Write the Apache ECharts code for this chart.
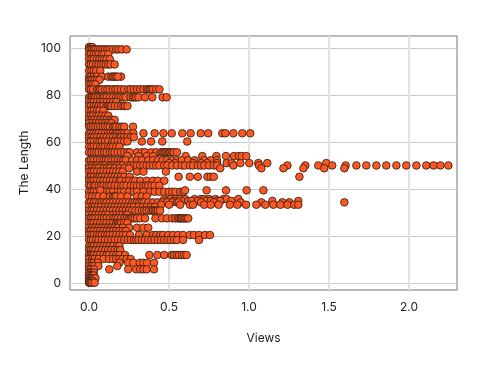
<!DOCTYPE html>
<html><head><meta charset="utf-8">
<style>html,body{margin:0;padding:0;background:#fff}#c{width:479px;height:372px}</style>
<script src="https://cdn.jsdelivr.net/npm/echarts@6/dist/echarts.min.js"></script>
</head><body><div id="c"></div>
<script>
const xTicks=[0,0.5,1,1.5,2];
const yTicks=[0,20,40,60,80,100];
const L100=[0,0.01,0.02];
const L99=[0,0.01,0.02,0.03,0.04,0.055,0.07,0.085,0.1,0.115,0.13,0.15,0.17,0.185,0.205,0.235];
const L97=[0,0.012,0.03,0.045,0.06,0.08,0.095,0.12];
const L95=[0,0.015,0.03,0.05,0.065,0.08,0.095,0.11,0.13];
const L93=[0,0.01,0.025,0.045,0.06,0.075,0.09,0.105,0.12,0.135,0.16];
const L90=[0,0.015,0.03,0.045,0.07];
const L88=[0,0.012,0.03,0.05,0.08,0.12,0.14,0.15,0.16,0.17,0.2,0.18];
const L86=[0,0.01,0.02,0.035,0.05,0.065];
const L84=[0,0.012,0.025,0.04];
const L82=[0,0.012,0.025,0.05,0.06,0.07,0.08,0.1,0.115,0.13,0.15,0.165,0.18,0.2,0.22,0.245,0.26,0.28,0.3,0.32,0.34,0.36,0.37,0.38,0.39,0.4,0.42,0.44];
const L79=[0,0.012,0.02,0.03,0.04,0.055,0.07,0.085,0.095,0.11,0.13,0.15,0.17,0.185,0.2,0.215,0.23,0.26,0.275,0.285,0.295,0.31,0.35,0.395,0.46,0.485];
const L77=[0,0.015,0.03,0.05,0.07,0.09,0.11,0.13,0.15,0.17];
const L75=[0,0.012,0.03,0.045,0.06,0.075,0.09,0.11,0.12,0.13,0.14,0.16,0.18,0.2,0.215,0.225,0.24];
const L73=[0,0.015,0.03,0.05,0.065,0.09];
const L71=[0,0.012,0.025,0.045,0.06,0.08,0.1,0.12];
const L69=[0,0.015,0.03,0.05,0.07,0.09,0.11,0.13,0.145,0.16];
const L68=[0,0.02,0.04,0.06,0.08,0.1,0.12,0.14];
const L66=[0,0.012,0.025,0.04,0.055,0.07,0.085,0.1,0.115,0.13,0.15,0.16,0.17,0.19,0.205,0.22,0.275];
const L64=[0,0.012,0.03,0.045,0.06,0.08,0.1,0.12,0.135,0.15,0.165,0.175,0.19,0.205,0.22,0.24,0.277,0.34,0.41,0.465,0.517,0.583,0.635,0.698,0.745,0.833,0.852,0.902,0.958,1.008];
const L62=[0,0.015,0.03,0.05,0.07,0.09,0.11,0.13,0.15,0.17,0.19,0.2,0.22,0.24,0.26,0.28];
const L60=[0,0.012,0.03,0.05,0.065,0.08,0.1,0.12,0.145,0.16,0.18,0.2,0.22,0.24,0.33,0.3875,0.458,0.614];
const L58=[0,0.015,0.03,0.05,0.07,0.085,0.1,0.12,0.135,0.15,0.17,0.19];
const L55=[0,0.015,0.03,0.045,0.06,0.08,0.095,0.11,0.13,0.145,0.16,0.18,0.2,0.22,0.24,0.255,0.3,0.33,0.35,0.39,0.42,0.45,0.46,0.47,0.48,0.49,0.5,0.51,0.52,0.53,0.55];
const L54=[0.24,0.31,0.36,0.4,0.604,0.708,0.796,0.856,0.906,0.936,0.954,0.983];
const L52=[0,0.012,0.03,0.05,0.07,0.09,0.105,0.12,0.14,0.16,0.18,0.2,0.215,0.23,0.27,0.3,0.33,0.37,0.4,0.43,0.46,0.485,0.52,0.55,0.58,0.62,0.66,0.72,0.76,0.8];
const L51=[0.5,0.54,0.65,0.7,0.74,0.8,0.86,0.892,0.946,1.002,1.058,1.114,1.483];
const L50=[0,0.015,0.035,0.05,0.07,0.085,0.1,0.125,0.14,0.155,0.17,0.19,0.21,0.24,0.26,0.28,0.3,0.32,0.34,0.36,0.38,0.4,0.42,0.44,0.47,0.49,0.52,0.55,0.58,0.6,0.63,0.65,0.68,0.7,0.72,0.75,0.78,0.8,0.902,1.0625,1.24,1.352,1.433,1.52,1.604,1.671,1.733,1.796,1.858,1.921,1.983,2.046,2.108,2.154,2.196,2.246];
const L49=[0,0.02,0.04,0.06,0.09,0.11,0.13,0.16,0.19,0.22,0.25,0.82,1.077,1.215,1.34,1.47,1.596];
const L47=[0,0.015,0.03,0.05,0.07,0.09,0.11,0.13,0.15,0.17,0.19,0.21,0.3,0.34,0.48];
const L45=[0,0.012,0.03,0.05,0.065,0.08,0.1,0.12,0.14,0.16,0.18,0.2,0.22,0.255,0.56,0.63,0.68,0.74,0.76,0.78,1.315];
const L43=[0,0.015,0.03,0.05,0.07,0.09,0.11,0.13,0.15,0.17,0.19,0.2,0.23,0.25,0.275,0.29,0.32,0.36,0.4,0.43,0.47];
const L41=[0,0.012,0.03,0.04,0.06,0.075,0.09,0.11,0.125,0.14,0.16,0.18,0.2,0.215,0.235,0.26,0.28,0.3,0.32,0.34,0.355,0.37,0.39,0.41,0.44];
const L39=[0,0.015,0.03,0.05,0.07,0.09,0.11,0.13,0.15,0.18,0.2,0.22,0.25,0.28,0.3,0.34,0.38,0.41,0.44,0.47,0.5,0.52,0.54,0.57,0.59];
const L394=[0.07,0.6,0.735,0.856,0.985,1.09];
const L37=[0,0.02,0.04,0.06,0.09,0.13,0.15,0.16,0.17,0.2,0.24,0.3,0.33,0.36];
const L36=[0.47,0.51,0.54,0.57,0.6,0.66,0.7,0.72,0.75,0.79,0.84,0.86,0.933];
const L35=[0.48,0.53,0.58,0.62,0.64,0.68,0.73,0.76,0.8,0.82,0.89,1.146,1.308];
const L34=[0,0.012,0.03,0.045,0.065,0.08,0.095,0.11,0.13,0.15,0.17,0.19,0.21,0.23,0.25,0.27,0.285,0.3,0.315,0.33,0.345,0.37,0.4,0.43,0.46,0.49,0.52,0.55,0.56,0.7,0.78,0.948,1.077,1.208,1.252,1.596];
const L33=[0.45,0.5,0.57,0.63,0.65,0.72,0.76,0.81,0.88,0.927,0.981,1.046,1.102,1.152,1.196,1.24,1.283,1.308];
const L325=[0,0.02,0.035,0.055,0.075,0.1,0.12,0.14,0.16,0.18,0.2,0.22,0.24,0.26,0.28,0.31,0.335,0.36,0.385,0.41];
const L31=[0,0.015,0.03,0.05,0.07,0.09,0.11,0.13,0.15,0.17,0.19,0.21,0.23,0.25,0.27,0.29,0.31,0.33,0.345,0.36,0.375,0.39,0.4,0.41,0.42,0.43,0.444];
const L29=[0,0.02,0.04,0.06,0.08,0.1,0.12,0.15,0.17,0.19,0.21,0.23,0.24];
const L275=[0,0.012,0.025,0.04,0.06,0.08,0.095,0.11,0.13,0.15,0.165,0.18,0.2,0.22,0.235,0.25,0.26,0.27,0.285,0.3,0.32,0.35,0.415,0.456,0.4875,0.52,0.54,0.556,0.565,0.575,0.58,0.59,0.6,0.61,0.62];
const L25=[0,0.015,0.03,0.05,0.07,0.09,0.11,0.13,0.15,0.17,0.18,0.19,0.2,0.22,0.24];
const L235=[0,0.02,0.04,0.06,0.08,0.1,0.12,0.14,0.16,0.18,0.21,0.25,0.3,0.34,0.37];
const L22=[0,0.012,0.03,0.05,0.07,0.09,0.11,0.13,0.15,0.17,0.19,0.21,0.23];
const L20=[0,0.015,0.03,0.05,0.065,0.08,0.1,0.115,0.13,0.15,0.17,0.19,0.21,0.23,0.256,0.3125,0.36,0.4,0.42,0.444,0.4625,0.494,0.525,0.556,0.5875,0.63,0.656,0.6875,0.725,0.756];
const L18=[0,0.012,0.025,0.045,0.06,0.08,0.1,0.12,0.14,0.16,0.18,0.2,0.22,0.24,0.26,0.28,0.295,0.31,0.33,0.35,0.37,0.39,0.41,0.43,0.45,0.47,0.49,0.51,0.53,0.55,0.5875,0.6875];
const L16=[0,0.015,0.03,0.05,0.07,0.09,0.11,0.13,0.15,0.175,0.19];
const L14=[0,0.012,0.025,0.04,0.06,0.08,0.1,0.12,0.14,0.16,0.18,0.195];
const L12=[0,0.01,0.02,0.03,0.05,0.07,0.09,0.11,0.125,0.15,0.17,0.19,0.225,0.377,0.427,0.47,0.517,0.53,0.548,0.5625,0.58,0.594,0.61];
const L10=[0,0.02,0.035,0.06,0.09,0.125,0.15,0.17,0.19,0.21,0.235,0.26];
const L9=[0,0.015,0.03,0.055,0.19,0.245,0.277,0.317,0.34,0.363,0.406];
const L7=[0,0.015,0.03,0.058,0.177];
const L6=[0,0.012,0.03,0.127,0.245,0.295,0.32,0.34,0.36,0.406];
const L4=[0,0.01,0.02,0.03];
const L3=[0,0.012,0.02,0.03];
const L2=[0,0.005,0.015,0.025,0.04];
const L1=[0,0.01,0.02];
const L0=[0,0.005,0.012,0.02,0.035];
const lengths=[100.4,99.4,97.3,95.2,93,90.3,87.8,86.4,84.5,82.4,79,77,75.3,73.3,71.2,69.4,68,66.5,63.7,62,60.2,58,55.6,54,52.2,51,50,48.8,47.4,45.2,43.5,41.4,38.8,39.4,36.8,35.7,34.9,34.3,33.3,32.4,30.8,29,27.5,25.5,23.5,22.1,20.4,18.3,15.7,14,11.9,10.2,8.6,7.2,5.8,4.4,3.2,2,1,0.1];
const viewsByLength=[L100,L99,L97,L95,L93,L90,L88,L86,L84,L82,L79,L77,L75,L73,L71,L69,L68,L66,L64,L62,L60,L58,L55,L54,L52,L51,L50,L49,L47,L45,L43,L41,L39,L394,L37,L36,L35,L34,L33,L325,L31,L29,L275,L25,L235,L22,L20,L18,L16,L14,L12,L10,L9,L7,L6,L4,L3,L2,L1,L0];
const points=[];
lengths.forEach((y,i)=>viewsByLength[i].forEach(x=>points.push([x,y])));
const font='Inter';
const chart=echarts.init(document.getElementById('c'),null,{renderer:'canvas'});
chart.setOption({
 animation:false,
 grid:{left:70,right:22,top:36,bottom:82,show:true,borderColor:'#757575',borderWidth:1,backgroundColor:'#fff'},
 xAxis:{type:'value',min:-0.119,max:2.3,
  name:'Views',nameLocation:'middle',nameGap:42,
  nameTextStyle:{fontFamily:font,fontSize:12,color:'#1c1c1c'},
  axisLine:{show:false},
  axisTick:{show:true,length:5,customValues:xTicks,lineStyle:{color:'#ddd',width:1.5}},
  axisLabel:{customValues:xTicks,margin:11,fontFamily:font,fontSize:12,color:'#222',formatter:v=>v.toFixed(1)},
  splitLine:{show:true,lineStyle:{color:'#e2e2e2',width:2}}},
 yAxis:{type:'value',min:-3,max:105.1,
  name:'The Length',nameLocation:'middle',nameGap:40,nameRotate:90,
  nameTextStyle:{fontFamily:font,fontSize:12,color:'#1c1c1c'},
  axisLine:{show:false},
  axisTick:{show:true,length:6,customValues:yTicks,lineStyle:{color:'#ccc',width:1}},
  axisLabel:{customValues:yTicks,margin:9,fontFamily:font,fontSize:12,color:'#222'},
  splitLine:{show:true,lineStyle:{color:'#cccccc',width:1}}},
 series:[{type:'scatter',data:points,symbol:'circle',symbolSize:7.6,silent:true,
  itemStyle:{color:'#ff5722',borderColor:'#3d2216',borderWidth:0.9,opacity:1}}]
});
</script></body></html>
